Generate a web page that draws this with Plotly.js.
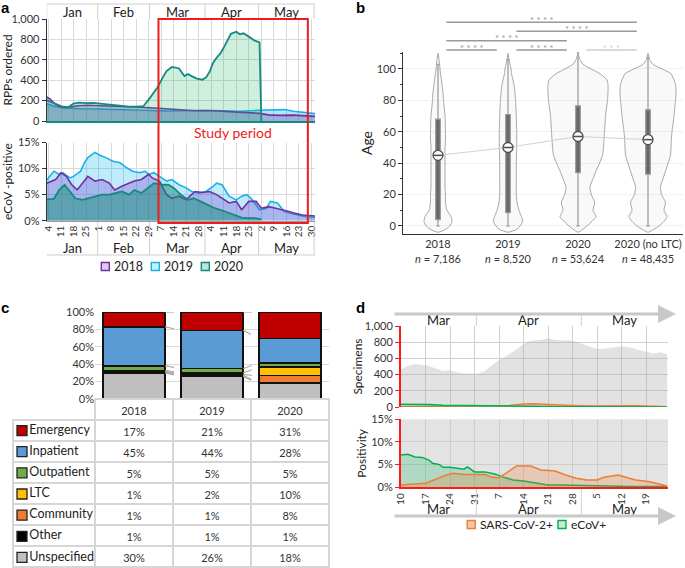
<!DOCTYPE html>
<html>
<head>
<meta charset="utf-8">
<script src="https://cdn.plot.ly/plotly-3.0.1.min.js"></script>
<style>html,body{margin:0;padding:0;background:#fff}</style>
</head>
<body>
<div id="fig" style="width:685px;height:568px"></div>
<script>
// ---------- panel a: RPPs ordered and eCoV positivity, 2018-2020 ----------
var rppDates2018 = ['01-03','01-05','01-08','01-12','01-16','01-20','01-26','02-03','02-10','02-18','02-25','03-03','03-10','03-18','03-26','04-05','04-15','04-25','05-01','05-06','05-12','05-20','05-26','06-01'];
var rpp2018 = [235,215,160,130,135,150,155,150,150,140,135,128,120,110,100,100,90,85,75,60,55,58,50,45];
var rppDates2019 = ['01-03','01-08','01-14','01-22','02-01','02-10','02-20','03-01','03-10','03-20','04-01','04-10','04-20','05-01','05-10','05-15','05-20','05-25','06-01'];
var rpp2019 = [170,140,128,120,118,112,108,102,98,100,105,100,95,105,110,112,95,85,72];
var rppDates2020 = ['01-03','01-06','01-09','01-12','01-15','01-18','01-21','01-25','01-29','02-02','02-06','02-10','02-14','02-18','02-22','02-26','02-29','03-03','03-05','03-08','03-10','03-13','03-15','03-17','03-20','03-22','03-24','03-27','03-30','04-01','04-03','04-05','04-07','04-09','04-11','04-13','04-15','04-18','04-20','04-22','04-24','04-26','04-28','05-01','05-02'];
var rpp2020 = [205,185,165,140,135,170,180,175,178,170,165,160,150,140,140,145,210,280,330,430,490,530,525,515,440,460,440,415,405,425,480,570,620,660,720,790,855,875,850,860,840,815,790,770,0];

var ecovDates2018 = ['01-03','01-08','01-11','01-14','01-17','01-20','01-24','01-26','01-30','02-03','02-07','02-10','02-14','02-18','02-21','02-25','02-29','03-02','03-06','03-10','03-13','03-17','03-21','03-23','03-26','03-30','04-03','04-07','04-10','04-14','04-18','04-21','04-25','04-29','05-02','05-06','05-10','05-14','05-18','05-21','05-25','06-01'];
var ecov2018 = [7.2,7.9,9.2,8.5,6.9,5.9,7.6,8.5,7.6,7.9,7.2,5.9,6.6,7.2,7.6,7.9,8.9,8.2,7.6,5.0,4.3,4.7,4.0,4.7,5.6,5.4,5.6,5.0,4.3,3.4,3.7,2.1,3.7,3.7,2.4,2.7,2.4,2.1,1.7,1.4,1.1,0.9];
var ecovDates2019 = ['01-03','01-07','01-10','01-12','01-16','01-18','01-22','01-24','01-26','01-30','02-02','02-05','02-09','02-13','02-17','02-20','02-24','02-27','02-29','03-03','03-06','03-10','03-13','03-17','03-21','03-24','03-28','04-01','04-05','04-07','04-10','04-14','04-18','04-21','04-24','04-27','05-01','05-05','05-07','05-11','05-15','05-19','05-22','05-26','06-01'];
var ecov2019 = [7.8,9.5,8.9,9.2,8.2,8.5,9.5,11.1,12.1,13.1,12.5,12.1,11.4,11.1,10.1,9.5,9.2,9.5,8.9,9.2,8.5,7.6,7.9,6.9,6.3,5.6,5.3,5.6,6.6,7.2,6.9,4.7,4.0,4.7,5.0,4.0,2.1,2.4,3.7,3.4,1.7,1.4,1.1,0.8,0.6];
var ecovDates2020 = ['01-03','01-07','01-10','01-13','01-16','01-19','01-23','01-26','01-30','02-03','02-07','02-10','02-14','02-18','02-21','02-25','02-29','03-03','03-07','03-11','03-14','03-18','03-22','03-25','03-29','04-02','04-06','04-09','04-13','04-17','04-21','04-24','04-28','05-02'];
var ecov2020 = [4.1,4.2,5.9,6.9,5.6,4.3,4.0,4.3,4.7,5.0,5.0,5.3,5.6,5.0,5.9,5.3,6.3,7.2,6.9,6.9,6.3,5.0,4.0,4.3,3.7,3.0,2.4,2.1,1.6,1.1,0.6,0.5,0.5,0.3];

var monthNames = ['Jan','Feb','Mar','Apr','May'];
var monthBreaksA = ['2020-01-31 12:00','2020-02-29 12:00','2020-03-31 12:00','2020-04-30 12:00','2020-05-31 12:00'];
var yearNames = ['2018','2019','2020'];
var yearLine = ['#7030a0','#19b2e8','#138a80'];
var yearKey = ['#dccbee','#c9eefa','#bfe3da'];

// ---------- panel b: age distributions ----------
var ageGroups = ['2018','2019','2020','2020 (no LTC)'];
var groupN = ['7,186','8,520','53,624','48,435'];
var violinAges = [-4,-2,0,3,6,10,15,20,25,30,35,40,45,50,55,60,70,80,85,90,93,97,100,103,106,110];
// half widths, in 1/70 of the group spacing
var violin2018 = [0,8,12,14,13,9,7.5,7.5,7,7,7,7,7,7,7.5,7.5,7,5.5,5,4,3.5,2.5,2,1.5,1,0];
var violin2019 = [0,9,12,14.7,13.5,11,9,8.3,8.3,8.3,8.3,8.3,8.5,8.7,8.7,8.7,8.3,7.5,7,6,5,3.5,3,2,1,0];
var violin2020 = [0,5,9,14,18,15,16.7,13.3,12,15,18,21.5,24.5,25.5,26,26.5,27.5,29.5,30,30,29,22,13,5,2,0];
var violinNoLtc = [0,6,11,16,19,16,17.5,13.5,12.5,15,17.5,20,22.5,23,23.3,24,26,27.5,28,27.5,26,23,14,5,1.5,0];
var ageQ1 = [4,8.5,34,33];
var ageMedian = [45,50,57,55];
var ageQ3 = [68,71,76.5,74];
var ageLow = [0,0,0,0];
var ageHigh = [103,106,111,107];
var sigFrom = [0,1,0,0,1,2];
var sigTo = [3,3,2,1,2,3];
var sigLabel = ['* * * *','* * * *','* * * *','* * * *','* * * *','* * *'];

// ---------- panel c: specimen source ----------
var sources = ['Emergency','Inpatient','Outpatient','LTC','Community','Other','Unspecified'];
var sourceColors = ['#c00000','#5b9bd5','#70ad47','#ffc000','#ed7d31','#000000','#bfbfbf'];
var srcYears = ['2018','2019','2020'];
var share2018 = [17,45,5,1,1,1,30];
var share2019 = [21,44,5,2,1,1,26];
var share2020 = [31,28,5,10,8,1,18];

// ---------- panel d: study period ----------
var specDates = ['03-10','03-12','03-14','03-16','03-18','03-20','03-22','03-24','03-26','03-28','03-30','04-01','04-03','04-05','04-07','04-09','04-11','04-13','04-15','04-17','04-19','04-21','04-23','04-25','04-27','04-29','05-01','05-03','05-05','05-07','05-09','05-11','05-13','05-15','05-17','05-19','05-21','05-23','05-25'];
var specimens = [465,510,530,515,505,475,445,455,430,415,410,415,445,520,580,625,690,745,805,825,830,850,830,820,825,805,775,745,715,720,735,745,745,730,700,685,660,675,650];
var sarsCountDates = ['03-10','03-17','03-24','03-31','04-07','04-10','04-14','04-17','04-21','04-25','04-28','05-03','05-07','05-12','05-16','05-21','05-25'];
var sarsCount = [2,5,13,12,13,20,38,40,32,30,20,12,13,20,15,9,3];
var ecovCountDates = ['03-10','03-14','03-18','03-22','03-26','03-30','04-03','04-07','04-11','04-15','04-20','04-25','05-01','05-10','05-25'];
var ecovCount = [33,35,30,22,19,18,15,15,10,12,7,4,3,2,1];
var sarsPosDates = ['03-10','03-17','03-20','03-23','03-25','03-28','03-31','04-03','04-05','04-07','04-09','04-12','04-16','04-19','04-23','04-26','04-29','05-02','05-05','05-07','05-11','05-13','05-16','05-20','05-25'];
var sarsPos = [0.5,0.9,1.8,2.7,3.1,2.8,2.8,2.8,2.2,2.1,3.1,4.7,4.7,3.8,3.6,2.7,2.0,1.6,1.6,2.2,2.7,2.2,1.6,1.2,0.3];
var ecovPosDates = ['03-10','03-12','03-14','03-16','03-18','03-19','03-21','03-22','03-24','03-26','03-28','03-29','03-31','04-03','04-06','04-08','04-11','04-14','04-18','04-21','04-25','04-29','05-05','05-14','05-25'];
var ecovPos = [7.1,7.3,6.7,6.6,6.0,5.3,5.0,4.4,4.4,4.2,4.0,4.5,3.4,3.4,2.9,2.3,1.6,1.4,0.9,0.5,0.5,0.4,0.3,0.15,0.15];
var monthNamesD = ['Mar','Apr','May'];
var monthBreaksD = ['2020-03-31 12:00','2020-04-30 12:00'];
var testNames = ['SARS-CoV-2+','eCoV+'];
var testLine = ['#ed7d31','#00b050'];
var testKey = ['#f8cbad','#c6efce'];

// ---------- helpers ----------
var FONT = 'Lato, "Open Sans", sans-serif';
var WEEK = 7 * 86400000;
var rangeA = ['2020-01-03', '2020-06-01'];
var rangeD = ['2020-03-10', '2020-05-25 06:00'];
function px(x) { return x / 685; }
function py(y) { return 1 - y / 568; }
function d20(arr) { return arr.map(function (s) { return '2020-' + s; }); }
function ms(s) { var p = s.split(/[- :]/); return Date.UTC(+p[0], +p[1] - 1, +p[2], +(p[3] || 0), +(p[4] || 0)); }
function iso(t) { return new Date(t).toISOString().slice(0, 19).replace('T', ' '); }
function mid(a, b) { return iso((ms(a) + ms(b)) / 2); }

var data = [];
var shapes = [];
var annotations = [];
function label(xref, x, y, text, size, color, xanchor) {
  annotations.push({xref: xref, yref: 'paper', x: x, y: y, text: text, showarrow: false,
    xanchor: xanchor || 'center', yanchor: 'middle', font: {size: size, color: color || '#222'}});
}
// legend key: square + text, positioned in page pixels
function key(cx, cy, fill, line, text, size) {
  shapes.push({type: 'rect', xref: 'paper', yref: 'paper', x0: px(cx - 4), x1: px(cx + 4), y0: py(cy + 4), y1: py(cy - 4),
    fillcolor: fill, line: {color: line, width: 1.4}});
  label('paper', px(cx + 6.5), py(cy), text, size, '#222', 'left');
}

// panel a traces
function area(x, y, line, fill, w, xa, ya) {
  return {type: 'scatter', mode: 'lines', x: d20(x), y: y, xaxis: xa, yaxis: ya,
    fill: 'tozeroy', fillcolor: fill, line: {color: line, width: w}, hoverinfo: 'skip'};
}
data.push(area(rppDates2019, rpp2019, yearLine[1], 'rgba(0,176,240,0.3)', 1.6, 'x', 'y'));
data.push(area(rppDates2018, rpp2018, yearLine[0], 'rgba(112,48,160,0.3)', 1.6, 'x', 'y'));
data.push(area(rppDates2020, rpp2020, yearLine[2], 'rgba(30,180,100,0.22)', 1.8, 'x', 'y'));
data.push(area(ecovDates2019, ecov2019, yearLine[1], 'rgba(0,176,240,0.25)', 1.6, 'x2', 'y2'));
data.push(area(ecovDates2018, ecov2018, yearLine[0], 'rgba(112,48,200,0.28)', 1.6, 'x2', 'y2'));
data.push(area(ecovDates2020, ecov2020, yearLine[2], 'rgba(20,140,120,0.5)', 1.8, 'x2', 'y2'));

yearNames.forEach(function (n, i) { key(105.3 + 50 * i, 266.5, yearKey[i], yearLine[i], n, 12.5); });

// month strips for panel a
var edgesA = [rangeA[0]].concat(monthBreaksA);
monthNames.forEach(function (m, i) {
  var c = mid(edgesA[i], edgesA[i + 1]);
  label('x', c, py(12), m, 13);
  label('x', c, py(248), m, 13);
});
edgesA.forEach(function (e) {
  shapes.push({type: 'line', xref: 'x', yref: 'paper', x0: e, x1: e, y0: py(4), y1: py(19), line: {color: '#cfcfcf', width: 1}});
});
monthBreaksA.forEach(function (e) {
  shapes.push({type: 'line', xref: 'x', yref: 'paper', x0: e, x1: e, y0: py(222), y1: py(255), line: {color: '#cfcfcf', width: 1}});
});
shapes.push({type: 'line', xref: 'x', yref: 'paper', x0: rangeA[0], x1: rangeA[1], y0: py(4), y1: py(4), line: {color: '#cfcfcf', width: 1}});
shapes.push({type: 'line', xref: 'x', yref: 'paper', x0: rangeA[0], x1: rangeA[1], y0: py(255), y1: py(255), line: {color: '#cfcfcf', width: 1}});
// study period box
shapes.push({type: 'rect', xref: 'x', yref: 'paper', x0: '2020-03-05 12:00', x1: '2020-05-28', y0: py(223), y1: py(19), line: {color: '#ee1c1c', width: 2}});
label('x', '2020-04-16', py(133), 'Study period', 14, '#ee1c1c');

// panel b traces
var violins = [violin2018, violin2019, violin2020, violinNoLtc];
violins.forEach(function (hw, g) {
  var xs = [], ys = [];
  violinAges.forEach(function (a, i) { xs.push(g + hw[i] / 70); ys.push(a); });
  for (var i = violinAges.length - 1; i >= 0; i--) { xs.push(g - hw[i] / 70); ys.push(violinAges[i]); }
  data.push({type: 'scatter', mode: 'lines', x: xs, y: ys, xaxis: 'x3', yaxis: 'y3', fill: 'toself',
    fillcolor: 'rgba(0,0,0,0.025)', line: {color: '#a6a6a6', width: 1, shape: 'spline', smoothing: 0.6}, hoverinfo: 'skip'});
});
data.push({type: 'box', x: [0, 1, 2, 3], q1: ageQ1, median: ageMedian, q3: ageQ3, lowerfence: ageLow, upperfence: ageHigh,
  xaxis: 'x3', yaxis: 'y3', width: 0.065, whiskerwidth: 0.8, fillcolor: '#6b6b6b', line: {color: '#9c9c9c', width: 1.2},
  hoverinfo: 'skip'});
data.push({type: 'scatter', mode: 'lines+markers', x: [0, 1, 2, 3], y: ageMedian, xaxis: 'x3', yaxis: 'y3',
  line: {color: '#d2d2d2', width: 1}, marker: {symbol: 'circle', size: 10, color: 'white', line: {color: '#505050', width: 1.3}},
  hoverinfo: 'skip'});
data.push({type: 'scatter', mode: 'markers', x: [0, 1, 2, 3], y: ageMedian, xaxis: 'x3', yaxis: 'y3',
  marker: {symbol: 'line-ew', size: 7, line: {color: '#505050', width: 1.6}}, hoverinfo: 'skip'});

var sigY = [22.3, 31.3, 40.7, 50, 50, 50];
sigFrom.forEach(function (f, i) {
  var col = i === 5 ? '#cfcfcf' : '#999999';
  shapes.push({type: 'line', xref: 'x3', yref: 'paper', x0: f + 0.12, x1: sigTo[i] - 0.16, y0: py(sigY[i]), y1: py(sigY[i]), line: {color: col, width: 1.5}});
  label('x3', (f + 0.12 + sigTo[i] - 0.16) / 2, py(sigY[i] - 2), sigLabel[i], 9.5, col);
});

// panel c traces
var shares = [share2018, share2019, share2020];
for (var k = sources.length - 1; k >= 0; k--) {
  data.push({type: 'bar', x: [0, 1, 2], y: shares.map(function (s) { return s[k]; }), xaxis: 'x4', yaxis: 'y4', width: 0.8,
    marker: {color: sourceColors[k], line: {color: '#111', width: 1.5}}, hoverinfo: 'skip'});
}
// dashed series lines between bar segments
var cx = [], cy = [];
shares.forEach(function (s, i) {
  if (i === shares.length - 1) return;
  var nxt = shares[i + 1];
  var t0 = s.reduce(function (a, b) { return a + b; }, 0), t1 = nxt.reduce(function (a, b) { return a + b; }, 0);
  var c0 = 0, c1 = 0;
  for (var k = sources.length - 1; k >= 0; k--) {
    c0 += s[k]; c1 += nxt[k];
    cx.push(i + 0.4, i + 0.6, null);
    cy.push(c0 / t0 * 100, c1 / t1 * 100, null);
  }
});
data.push({type: 'scatter', mode: 'lines', x: cx, y: cy, xaxis: 'x4', yaxis: 'y4', line: {color: '#aaaaaa', width: 1.2, dash: 'dash'},
  hoverinfo: 'skip'});

function pct(s) { return s.map(function (v) { return v + '%'; }); }
data.push({type: 'table', domain: {x: [px(13), px(329)], y: [0, py(399)]}, columnwidth: [82, 78, 78, 78],
  header: {values: [''].concat(srcYears), height: 21, align: 'center', font: {family: FONT, size: 11, color: '#333'},
    fill: {color: ['rgba(0,0,0,0)', 'white', 'white', 'white']},
    line: {color: ['rgba(0,0,0,0)', '#d6d6d6', '#d6d6d6', '#d6d6d6'], width: 1.5}},
  cells: {values: [sources.map(function () { return ''; }), pct(share2018), pct(share2019), pct(share2020)], height: 21,
    align: 'center', font: {family: FONT, size: 11, color: '#333'},
    fill: {color: ['rgba(0,0,0,0)', 'white', 'white', 'white']}, line: {color: '#d6d6d6', width: 1.5}}});
data.push({type: 'scatter', mode: 'markers+text', x: sources.map(function () { return 9; }), y: sources.map(function (s, i) { return i; }),
  xaxis: 'x5', yaxis: 'y5', text: sources, textposition: 'middle right', textfont: {size: 12.5, color: '#222'},
  marker: {symbol: 'square', size: 10, color: sourceColors, line: {color: '#222', width: 1.3}}, hoverinfo: 'skip', cliponaxis: false});

// panel d traces
data.push(area(specDates, specimens, 'rgba(0,0,0,0)', 'rgba(175,175,175,0.36)', 0, 'x6', 'y6'));
data.push(area(sarsCountDates, sarsCount, testLine[0], 'rgba(237,125,49,0.25)', 1.5, 'x6', 'y6'));
data.push(area(ecovCountDates, ecovCount, testLine[1], 'rgba(0,176,80,0.2)', 1.5, 'x6', 'y6'));
data.push(area(ecovPosDates, ecovPos, testLine[1], 'rgba(0,176,80,0.22)', 1.5, 'x7', 'y7'));
data.push(area(sarsPosDates, sarsPos, testLine[0], 'rgba(237,125,49,0.25)', 1.5, 'x7', 'y7'));
testNames.forEach(function (n, i) { key(471.2 + 90.8 * i, 524.5, testKey[i], testLine[i], n, 12); });

shapes.push({type: 'rect', xref: 'x7 domain', yref: 'y7 domain', x0: 0, x1: 1, y0: 0, y1: 1, fillcolor: '#e3e3e3', line: {width: 0}, layer: 'below'});
var edgesD = [rangeD[0]].concat(monthBreaksD).concat([rangeD[1]]);
monthNamesD.forEach(function (m, i) {
  var c = mid(edgesD[i], edgesD[i + 1]);
  label('x6', c, py(320), m, 13);
  label('x7', c, py(509), m, 13);
});
monthBreaksD.forEach(function (e) {
  shapes.push({type: 'line', xref: 'x6', yref: 'paper', x0: e, x1: e, y0: py(314), y1: py(326), line: {color: '#cfcfcf', width: 1}});
  shapes.push({type: 'line', xref: 'x7', yref: 'paper', x0: e, x1: e, y0: py(489), y1: py(516), line: {color: '#cfcfcf', width: 1}});
});
[314, 516].forEach(function (yy) {
  annotations.push({xref: 'paper', yref: 'paper', x: px(676), y: py(yy), ax: -283, ay: 0, axref: 'pixel', ayref: 'pixel', text: '',
    showarrow: true, arrowhead: 2, arrowsize: 1.2, arrowwidth: 3, arrowcolor: '#c8c8c8'});
});

// panel letters
[['a', 5, 7], ['b', 360, 7], ['c', 5, 307], ['d', 360, 307]].forEach(function (p) {
  annotations.push({xref: 'paper', yref: 'paper', x: px(p[1]), y: py(p[2]), text: '<b>' + p[0] + '</b>', showarrow: false,
    xanchor: 'center', yanchor: 'middle', font: {family: 'Liberation Sans, Arial, sans-serif', size: 15, color: '#000'}});
});

var grid = '#d9d9d9';
var layout = {
  width: 685, height: 568, margin: {l: 0, r: 0, t: 0, b: 0},
  paper_bgcolor: 'white', plot_bgcolor: 'white',
  font: {family: FONT, size: 11, color: '#333'},
  showlegend: false,
  barmode: 'stack', barnorm: 'percent', bargap: 0.2,
  hovermode: false,
  shapes: shapes, annotations: annotations,
  xaxis: {domain: [px(46.7), px(315)], type: 'date', range: rangeA, tick0: '2020-01-04', dtick: WEEK, showticklabels: false,
    showgrid: true, gridcolor: grid, zeroline: false, showline: true, linecolor: '#138a80', linewidth: 2, anchor: 'y'},
  yaxis: {domain: [py(121), py(19)], range: [0, 1000], dtick: 200, tickformat: ',d', showline: true, linecolor: '#333',
    ticks: 'outside', ticklen: 4, tickcolor: '#333', gridcolor: grid, zeroline: false, anchor: 'x',
    title: {text: 'RPPs ordered', font: {size: 12, color: '#222'}, standoff: 2}},
  xaxis2: {domain: [px(46.7), px(315)], type: 'date', range: rangeA, tick0: '2020-01-04', dtick: WEEK, tickformat: '%-d',
    tickangle: -90, tickfont: {size: 10}, showgrid: true, gridcolor: grid, zeroline: false, showline: true, linecolor: '#999',
    ticks: '', anchor: 'y2'},
  yaxis2: {domain: [py(220.7), py(142.5)], range: [0, 15], dtick: 5, ticksuffix: '%', showline: true, linecolor: '#333',
    ticks: 'outside', ticklen: 4, tickcolor: '#333', gridcolor: grid, zeroline: false, anchor: 'x2',
    title: {text: 'eCoV -positive', font: {size: 12, color: '#222'}, standoff: 4}},
  xaxis3: {domain: [px(403), px(683)], range: [-0.5, 3.5], tickvals: [0, 1, 2, 3],
    ticktext: ageGroups.map(function (g, i) { return g + '<br><i>n</i> = ' + groupN[i]; }),
    tickfont: {size: 11, color: '#333'}, showgrid: false, zeroline: false, showline: true, linecolor: '#333', ticks: '', anchor: 'y3'},
  yaxis3: {domain: [py(234), py(52)], range: [-5.1, 110.8], tickvals: [0, 20, 40, 60, 80, 100], showline: true, linecolor: '#333',
    ticks: 'outside', ticklen: 4, tickcolor: '#333', minor: {dtick: 10, tick0: 0, ticks: 'outside', ticklen: 2, tickcolor: '#333', showgrid: false},
    showgrid: true, gridcolor: '#f1f1f1', zeroline: false, anchor: 'x3',
    title: {text: 'Age', font: {size: 14, color: '#222'}, standoff: 0}},
  xaxis4: {domain: [px(95), px(329)], range: [-0.5, 2.5], showticklabels: false, showgrid: false, zeroline: false, anchor: 'y4'},
  yaxis4: {domain: [py(399), py(312)], range: [0, 100], dtick: 20, ticksuffix: '%', gridcolor: grid, zeroline: false,
    showline: false, anchor: 'x4', tickfont: {size: 11}},
  xaxis5: {domain: [px(13), px(329)], range: [0, 316], visible: false, anchor: 'y5'},
  yaxis5: {domain: [0, py(420)], range: [6.5, -0.5], visible: false, anchor: 'x5'},
  xaxis6: {domain: [px(401), px(668)], type: 'date', range: rangeD, tick0: '2020-03-10', dtick: WEEK, showticklabels: false,
    showgrid: true, gridcolor: '#d0d0d0', zeroline: false, showline: false, anchor: 'y6'},
  yaxis6: {domain: [py(407), py(326)], range: [0, 1000], dtick: 200, tickformat: ',d', showline: true, linecolor: '#ff1a1a', linewidth: 2,
    ticks: 'outside', ticklen: 4, tickcolor: '#ff1a1a', gridcolor: '#d0d0d0', zeroline: false, anchor: 'x6',
    title: {text: 'Specimens', font: {size: 12, color: '#222'}, standoff: 0}},
  xaxis7: {domain: [px(401), px(668)], type: 'date', range: rangeD, tick0: '2020-03-10', dtick: WEEK, tickformat: '%-d',
    tickangle: -90, tickfont: {size: 10}, showgrid: true, gridcolor: '#cccccc', zeroline: false, showline: true, linecolor: '#ff1a1a',
    linewidth: 2, ticks: '', anchor: 'y7'},
  yaxis7: {domain: [py(487.3), py(419.3)], range: [0, 15], dtick: 5, ticksuffix: '%', showline: true, linecolor: '#ff1a1a', linewidth: 2,
    ticks: 'outside', ticklen: 4, tickcolor: '#ff1a1a', gridcolor: '#cccccc', zeroline: false, anchor: 'x7',
    title: {text: 'Positivity', font: {size: 12, color: '#222'}, standoff: 2}}
};

Plotly.newPlot('fig', data, layout, {displayModeBar: false, staticPlot: true});
</script>
</body>
</html>
